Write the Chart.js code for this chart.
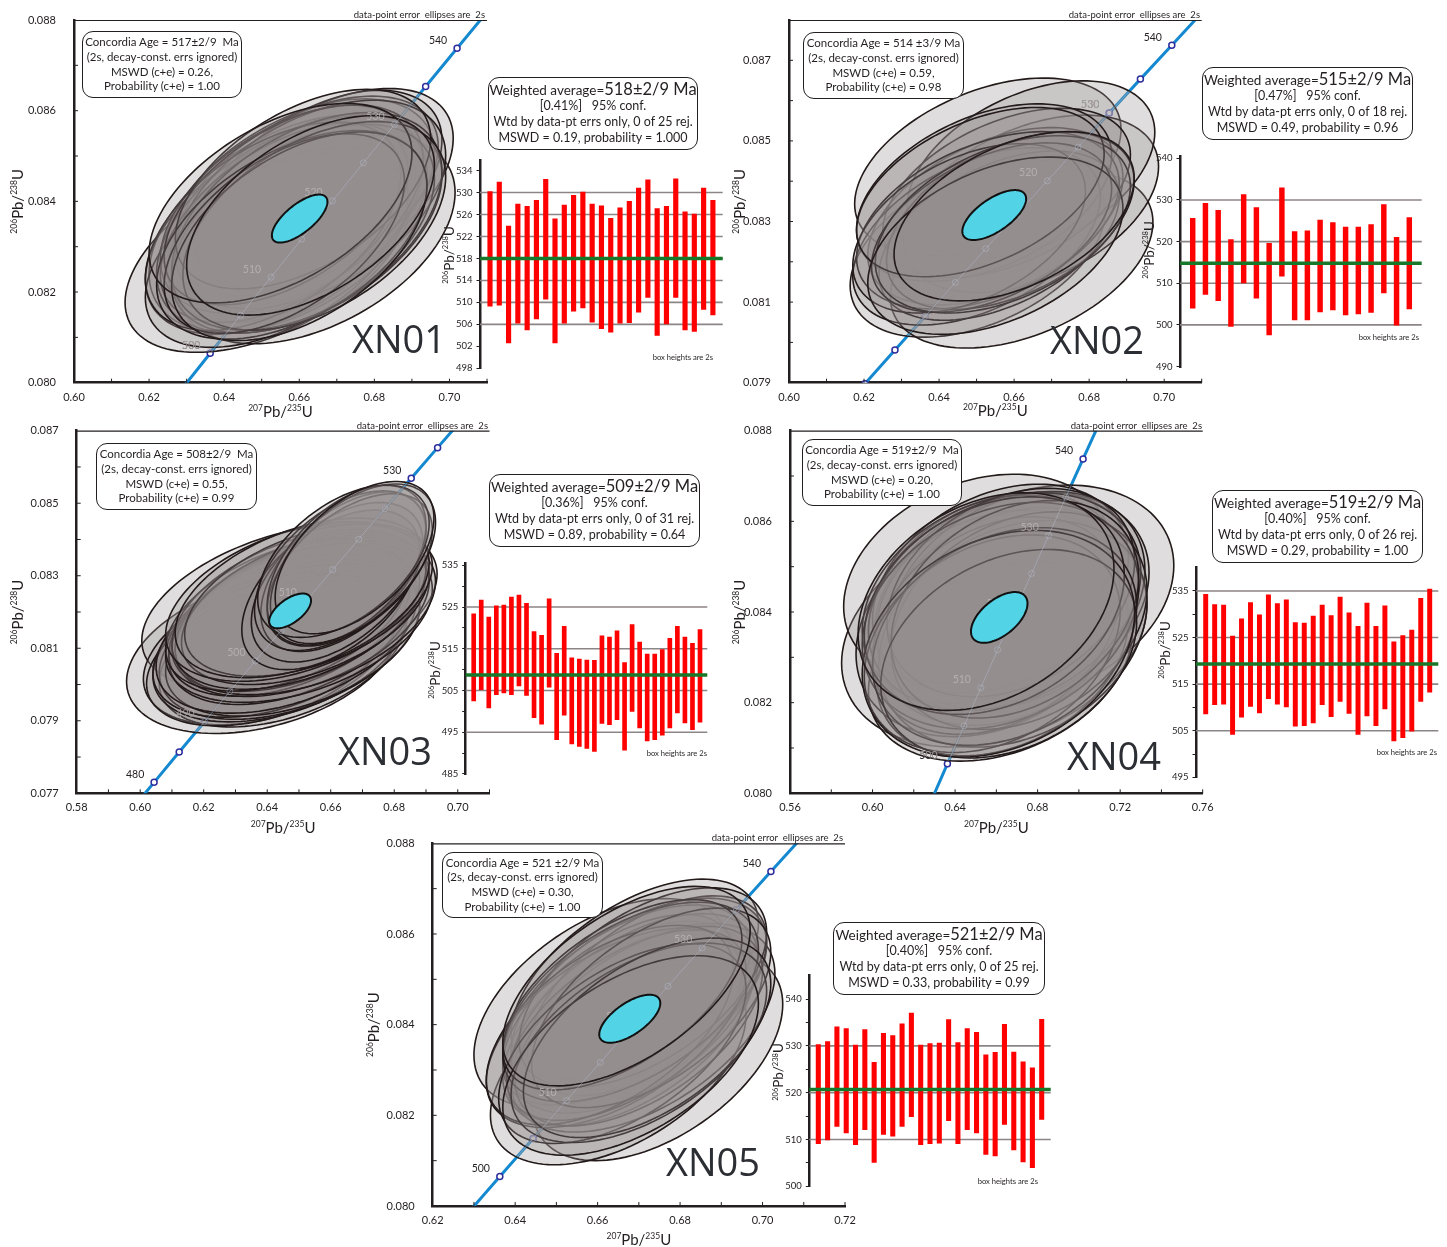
<!DOCTYPE html>
<html><head><meta charset="utf-8"><title>U-Pb concordia XN01-XN05</title>
<script src="https://cdn.jsdelivr.net/npm/chart.js@4.4.1/dist/chart.umd.min.js"></script>
<style>
html,body{margin:0;padding:0;background:#fff;}
body{width:1447px;height:1247px;position:relative;overflow:hidden;font-family:Lato,"Noto Sans",sans-serif;color:#231f20;}
canvas{position:absolute;}
.cbox{position:absolute;border:1.4px solid #231f20;border-radius:11px;box-sizing:border-box;display:flex;flex-direction:column;justify-content:center;align-items:center;font-size:11.5px;line-height:14.6px;white-space:pre;background:#fff;}
.wbox{position:absolute;border:1.4px solid #231f20;border-radius:11px;box-sizing:border-box;display:flex;flex-direction:column;justify-content:center;align-items:center;font-size:12.5px;line-height:16.2px;white-space:pre;background:#fff;}
.wbox .l1{font-size:13.5px;}
.wbox .big{font-size:16.5px;}
.tag{position:absolute;font-family:"Open Sans",sans-serif;font-size:38px;line-height:38px;color:#2b2e33;white-space:nowrap;}
.note{position:absolute;font-size:9.5px;line-height:10px;white-space:pre;transform:translateX(-100%);}
.bh{position:absolute;font-size:7.6px;line-height:8px;white-space:nowrap;transform:translateX(-100%);}
</style></head>
<body>
<script>
// ---------------- DATA ----------------
// Concordia curve (207Pb/235U, 206Pb/238U) at age marks, Ma
const concordiaAge = [470,475,480,485,490,495,500,505,510,515,520,525,530,535,540,545,550];
const concordiaX = [0.58864,0.59648,0.60437,0.61228,0.62024,0.62824,0.63628,0.64436,0.65247,0.66063,0.66883,0.67707,0.68535,0.69366,0.70203,0.71043,0.71887];
const concordiaY = [0.075633,0.076467,0.077302,0.078138,0.078975,0.079812,0.080650,0.081488,0.082327,0.083167,0.084008,0.084849,0.085691,0.086533,0.087376,0.088220,0.089064];

// data-point ellipses: centre (207/235, 206/238), 2s half-extents and error correlation
const xn01_cx = [0.6516,0.6645,0.667,0.660,0.662,0.657,0.655,0.659,0.665,0.654,0.660,0.658,0.663,0.656,0.661,0.653,0.662,0.657,0.661,0.658,0.664,0.656,0.660,0.655,0.663];
const xn01_cy = [0.08287,0.08316,0.08429,0.08396,0.08412,0.08351,0.08337,0.08363,0.08425,0.08298,0.08349,0.08383,0.08393,0.08353,0.08340,0.08345,0.08356,0.08392,0.08427,0.08326,0.08346,0.08329,0.08323,0.08396,0.08369];
const xn01_sx = [0.038,0.037,0.034,0.036,0.035,0.037,0.036,0.034,0.033,0.035,0.038,0.035,0.036,0.033,0.035,0.034,0.036,0.033,0.034,0.036,0.035,0.032,0.034,0.035,0.033];
const xn01_sy = [0.0022,0.0023,0.0022,0.0023,0.0022,0.0024,0.0023,0.0023,0.0022,0.0022,0.0024,0.0023,0.0023,0.0022,0.0023,0.0023,0.0024,0.0022,0.0022,0.0023,0.0023,0.0022,0.0023,0.0022,0.0022];
const xn01_rho = [0.50,0.45,0.50,0.48,0.50,0.46,0.48,0.50,0.50,0.50,0.45,0.48,0.47,0.52,0.48,0.50,0.46,0.52,0.50,0.48,0.47,0.52,0.48,0.50,0.50];
const xn01_mean = [0.6601,0.08362,0.0074,0.00053,0.70];
const xn01_lo = [509.3,509.5,502.6,506.2,505.0,507.0,510.6,502.6,506.2,508.4,509.0,506.4,505.2,504.6,506.2,506.3,508.2,510.9,504.0,506.1,510.9,505.0,504.7,508.7,507.7];
const xn01_hi = [530.2,531.9,523.9,527.9,527.5,528.6,532.4,525.2,527.7,529.5,530.1,527.9,527.6,525.3,527.2,528.4,530.8,532.3,527.1,527.5,532.5,526.5,526.1,530.8,528.6];
const xn01_wavg = 518;

const xn02_cx = [0.6503,0.662,0.653,0.6645,0.6645,0.655,0.658,0.652,0.650,0.656,0.653,0.659,0.648,0.654,0.657,0.651,0.655,0.660];
const xn02_cy = [0.08233,0.08206,0.08436,0.08344,0.08429,0.08313,0.08371,0.08372,0.08263,0.08265,0.08303,0.08302,0.08283,0.08285,0.08293,0.08373,0.08240,0.08313];
const xn02_sx = [0.034,0.035,0.0355,0.034,0.033,0.034,0.033,0.034,0.033,0.032,0.035,0.033,0.031,0.032,0.034,0.033,0.034,0.032];
const xn02_sy = [0.0022,0.0022,0.0022,0.0022,0.0022,0.0022,0.0021,0.0022,0.0022,0.0021,0.0022,0.0022,0.0021,0.0021,0.0022,0.0021,0.0022,0.0021];
const xn02_rho = [0.42,0.42,0.42,0.42,0.42,0.44,0.45,0.42,0.45,0.46,0.42,0.45,0.44,0.46,0.43,0.45,0.42,0.45];
const xn02_mean = [0.6547,0.08316,0.0085,0.00062,0.65];
const xn02_lo = [504.0,507.3,505.8,499.6,510.1,506.4,497.6,511.7,501.2,501.2,503.1,503.6,502.4,502.6,503.0,507.7,499.9,503.8];
const xn02_hi = [525.6,529.2,527.5,520.5,531.3,528.2,519.6,532.9,522.4,522.6,525.2,524.6,523.5,523.5,524.1,528.9,521.0,525.8];
const xn02_wavg = 514.8;

const xn03_cx = [0.6387,0.647,0.641,0.645,0.640,0.644,0.647,0.643,0.648,0.646,0.648,0.650,0.647,0.651,0.649,0.652,0.646,0.650,0.652,0.649,0.653,0.651,0.660,0.662,0.664,0.663,0.666,0.665,0.667,0.664,0.6675];
const xn03_cy = [0.08085,0.08213,0.08099,0.08093,0.08086,0.08107,0.08124,0.08120,0.08123,0.08141,0.08165,0.08171,0.08178,0.08187,0.08191,0.08192,0.08192,0.08207,0.08210,0.08229,0.08233,0.08239,0.08261,0.08282,0.08311,0.08314,0.08316,0.08329,0.08333,0.08340,0.08350];
const xn03_sx = [0.043,0.0465,0.040,0.039,0.038,0.040,0.041,0.039,0.040,0.041,0.039,0.042,0.038,0.040,0.039,0.041,0.038,0.040,0.039,0.041,0.039,0.040,0.028,0.027,0.026,0.027,0.026,0.025,0.026,0.027,0.025];
const xn03_sy = [0.0022,0.0023,0.0021,0.0021,0.0020,0.0021,0.0022,0.0021,0.0021,0.0022,0.0022,0.0022,0.0021,0.0022,0.0021,0.0022,0.0021,0.0022,0.0021,0.0022,0.0021,0.0022,0.0022,0.0022,0.0022,0.0022,0.0021,0.0022,0.0022,0.0021,0.0021];
const xn03_rho = [0.35,0.40,0.40,0.42,0.42,0.40,0.42,0.42,0.42,0.42,0.44,0.42,0.45,0.44,0.45,0.42,0.45,0.44,0.45,0.42,0.45,0.44,0.50,0.50,0.52,0.50,0.52,0.50,0.52,0.50,0.52];
const xn03_mean = [0.6472,0.08203,0.0066,0.00048,0.60];
const xn03_lo = [502.5,505.2,500.8,504.0,504.4,504.0,506.1,503.8,498.5,496.9,505.8,493.2,499.1,492.2,491.6,491.1,490.4,497.1,496.8,498.0,490.7,500.0,496.0,492.9,493.2,494.3,496.0,499.6,497.2,495.6,497.4];
const xn03_hi = [523.4,526.7,522.6,525.3,525.5,527.4,527.9,525.9,519.1,518.2,527.0,513.9,520.4,512.8,512.5,512.3,512.2,518.1,517.8,519.3,511.7,520.8,516.6,513.7,513.7,514.8,517.5,520.4,517.8,516.3,519.6];
const xn03_wavg = 508.7;

const xn04_cx = [0.659,0.677,0.662,0.651,0.665,0.660,0.668,0.663,0.657,0.666,0.662,0.670,0.656,0.668,0.660,0.664,0.671,0.667,0.662,0.658,0.669,0.664,0.659,0.666,0.661,0.655];
const xn04_cy = [0.08352,0.08440,0.08291,0.08474,0.08425,0.08423,0.08423,0.08313,0.08375,0.08390,0.08452,0.08426,0.08428,0.08352,0.08370,0.08423,0.08381,0.08443,0.08392,0.08330,0.08406,0.08346,0.08414,0.08308,0.08330,0.08423];
const xn04_sx = [0.074,0.069,0.064,0.065,0.064,0.062,0.066,0.061,0.065,0.063,0.062,0.062,0.061,0.065,0.060,0.066,0.062,0.060,0.067,0.062,0.060,0.064,0.063,0.062,0.066,0.062];
const xn04_sy = [0.0025,0.0024,0.0022,0.0023,0.0024,0.0024,0.0024,0.0023,0.0025,0.0024,0.0023,0.0024,0.0023,0.0025,0.0024,0.0024,0.0024,0.0023,0.0025,0.0024,0.0024,0.0024,0.0024,0.0023,0.0025,0.0024];
const xn04_rho = [0.26,0.26,0.30,0.27,0.28,0.27,0.27,0.30,0.27,0.28,0.30,0.28,0.30,0.27,0.30,0.27,0.28,0.30,0.26,0.30,0.30,0.28,0.28,0.30,0.27,0.30];
const xn04_mean = [0.6614,0.08388,0.0137,0.00056,0.55];
const xn04_lo = [508.6,510.6,510.7,504.2,507.9,510.2,508.8,511.9,510.7,510.1,506.0,506.1,506.7,510.6,508.0,511.3,508.7,504.2,508.2,506.1,509.7,502.8,503.5,504.9,511.3,513.3];
const xn04_hi = [534.3,532.1,532.0,525.3,529.0,532.5,529.9,534.2,532.3,533.1,528.2,528.1,529.6,532.0,529.7,533.7,530.3,527.4,532.4,527.4,531.8,524.1,525.4,526.6,533.4,535.4];
const xn04_wavg = 519.3;

const xn05_cx = [0.661,0.6746,0.665,0.669,0.668,0.666,0.670,0.667,0.671,0.665,0.669,0.672,0.664,0.670,0.667,0.671,0.663,0.668,0.673,0.666,0.670,0.666,0.672,0.668,0.667];
const xn05_cy = [0.08448,0.08330,0.08311,0.08501,0.08396,0.08408,0.08459,0.08444,0.08393,0.08433,0.08425,0.08464,0.08393,0.08397,0.08399,0.08482,0.08399,0.08450,0.08437,0.08358,0.08360,0.08466,0.08371,0.08332,0.08485];
const xn05_sx = [0.031,0.0303,0.031,0.030,0.030,0.029,0.031,0.030,0.032,0.028,0.030,0.029,0.031,0.030,0.029,0.030,0.030,0.031,0.029,0.030,0.031,0.029,0.030,0.031,0.030];
const xn05_sy = [0.0023,0.0023,0.0022,0.0022,0.0022,0.0022,0.0022,0.0022,0.0023,0.0021,0.0022,0.0022,0.0022,0.0022,0.0021,0.0022,0.0022,0.0022,0.0022,0.0022,0.0022,0.0021,0.0022,0.0022,0.0022];
const xn05_rho = [0.50,0.50,0.50,0.55,0.55,0.56,0.54,0.55,0.52,0.58,0.55,0.56,0.54,0.55,0.57,0.55,0.55,0.53,0.56,0.55,0.52,0.58,0.54,0.52,0.56];
const xn05_mean = [0.6678,0.08413,0.0074,0.00053,0.65];
const xn05_lo = [509.1,509.9,512.8,511.4,508.9,512.1,505.1,511.1,510.7,512.8,514.9,508.9,509.1,509.2,514.0,509.1,512.1,511.4,506.8,506.5,513.2,507.8,505.2,504.0,514.3];
const xn05_hi = [530.3,530.9,534.1,533.7,530.2,533.5,526.5,532.7,532.2,534.7,537.0,530.2,530.5,530.6,535.6,530.7,533.7,532.9,528.1,528.6,534.6,528.7,526.6,525.3,535.7];
const xn05_wavg = 520.7;

// tick labels
const xn01_xTicks = [0.60,0.62,0.64,0.66,0.68,0.70], xn01_yTicks = [0.080,0.082,0.084,0.086,0.088];
const xn02_xTicks = [0.60,0.62,0.64,0.66,0.68,0.70], xn02_yTicks = [0.079,0.081,0.083,0.085,0.087];
const xn03_xTicks = [0.58,0.60,0.62,0.64,0.66,0.68,0.70], xn03_yTicks = [0.077,0.079,0.081,0.083,0.085,0.087];
const xn04_xTicks = [0.56,0.60,0.64,0.68,0.72,0.76], xn04_yTicks = [0.080,0.082,0.084,0.086,0.088];
const xn05_xTicks = [0.62,0.64,0.66,0.68,0.70,0.72], xn05_yTicks = [0.080,0.082,0.084,0.086,0.088];
const xn01_ageTicks = [498,502,506,510,514,518,522,526,530,534], xn01_ageGrid = [506,510,514,518,522,526,530];
const xn02_ageTicks = [490,500,510,520,530,540], xn02_ageGrid = [500,510,520,530];
const xn03_ageTicks = [485,495,505,515,525,535], xn03_ageGrid = [495,505,515,525];
const xn04_ageTicks = [495,505,515,525,535], xn04_ageGrid = [505,515,525,535];
const xn05_ageTicks = [500,510,520,530,540], xn05_ageGrid = [510,520,530];
const xn01_ageLabels = [500,510,520,530,540];
const xn02_ageLabels = [520,530,540];
const xn03_ageLabels = [480,490,500,510,530];
const xn04_ageLabels = [500,510,520,530,540];
const xn05_ageLabels = [500,510,520,530,540];

// ---------------- LAYOUT ----------------
const FONT = 'Lato, "Noto Sans", sans-serif';
const INK = '#231f20';
Chart.defaults.font.family = FONT;

const panels = [
 {name:'XN01', L:74, R:487, T:20, B:382.7, xmin:0.60, xmax:0.71, ymin:0.080, ymax:0.088, xMinor:0.01, yMinor:0.001, yTitleX:18, xTitleY:411.5,
  xTicks:xn01_xTicks, yTicks:xn01_yTicks, cx:xn01_cx, cy:xn01_cy, sx:xn01_sx, sy:xn01_sy, rho:xn01_rho, mean:xn01_mean, labels:xn01_ageLabels,
  inset:{axisX:480, gridEnd:722.7, first:490, last:712.9, top:159, bottom:370, ymin:498, ymax:535.8, bw:4.5, titleY:255, minor:null,
         lo:xn01_lo, hi:xn01_hi, ticks:xn01_ageTicks, grid:xn01_ageGrid, wavg:xn01_wavg},
  cbox:[82,31,160,67], wbox:[488,77,210,73], tag:[352,319], note:[485,9.5], bh:[713,353],
  ctext:['Concordia Age = 517±2/9  Ma','(2s, decay-const. errs ignored)','MSWD (c+e) = 0.26,','Probability (c+e) = 1.00'],
  wtext:['518±2/9 Ma','[0.41%]   95% conf.','Wtd by data-pt errs only, 0 of 25 rej.','MSWD = 0.19, probability = 1.000']},
 {name:'XN02', L:789, R:1201.7, T:20, B:382.7, xmin:0.60, xmax:0.71, ymin:0.079, ymax:0.088, xMinor:0.01, yMinor:0.001, yTitleX:740, xTitleY:411,
  xTicks:xn02_xTicks, yTicks:xn02_yTicks, cx:xn02_cx, cy:xn02_cy, sx:xn02_sx, sy:xn02_sy, rho:xn02_rho, mean:xn02_mean, labels:xn02_ageLabels,
  inset:{axisX:1180, gridEnd:1421.7, first:1192.7, last:1409.3, top:155, bottom:368.8, ymin:489.8, ymax:540.4, bw:4.8, titleY:250, minor:null,
         lo:xn02_lo, hi:xn02_hi, ticks:xn02_ageTicks, grid:xn02_ageGrid, wavg:xn02_wavg},
  cbox:[803,32,161,67], wbox:[1202,67,211,73], tag:[1050,320], note:[1200,9.5], bh:[1419,332.5],
  ctext:['Concordia Age = 514 ±3/9 Ma','(2s, decay-const. errs ignored)','MSWD (c+e) = 0.59,','Probability (c+e) = 0.98'],
  wtext:['515±2/9 Ma','[0.47%]   95% conf.','Wtd by data-pt errs only, 0 of 18 rej.','MSWD = 0.49, probability = 0.96']},
 {name:'XN03', L:76.7, R:489.5, T:430.7, B:793.3, xmin:0.58, xmax:0.71, ymin:0.077, ymax:0.087, xMinor:0.01, yMinor:0.001, yTitleX:18, xTitleY:828,
  xTicks:xn03_xTicks, yTicks:xn03_yTicks, cx:xn03_cx, cy:xn03_cy, sx:xn03_sx, sy:xn03_sy, rho:xn03_rho, mean:xn03_mean, labels:xn03_ageLabels,
  inset:{axisX:465.7, gridEnd:707.3, first:473.7, last:700, top:562.5, bottom:776, ymin:484.9, ymax:535.4, bw:4, titleY:670, minor:5,
         lo:xn03_lo, hi:xn03_hi, ticks:xn03_ageTicks, grid:xn03_ageGrid, wavg:xn03_wavg},
  cbox:[96,443,161,67], wbox:[489,474,211,73], tag:[338,731], note:[488,421], bh:[707,748.5],
  ctext:['Concordia Age = 508±2/9  Ma','(2s, decay-const. errs ignored)','MSWD (c+e) = 0.55,','Probability (c+e) = 0.99'],
  wtext:['509±2/9 Ma','[0.36%]   95% conf.','Wtd by data-pt errs only, 0 of 31 rej.','MSWD = 0.89, probability = 0.64']},
 {name:'XN04', L:790, R:1202.7, T:430.7, B:793.3, xmin:0.56, xmax:0.76, ymin:0.080, ymax:0.088, xMinor:0.02, yMinor:0.001, yTitleX:740, xTitleY:828,
  xTicks:xn04_xTicks, yTicks:xn04_yTicks, cx:xn04_cx, cy:xn04_cy, sx:xn04_sx, sy:xn04_sy, rho:xn04_rho, mean:xn04_mean, labels:xn04_ageLabels,
  inset:{axisX:1196, gridEnd:1438.3, first:1205.7, last:1429.7, top:566.4, bottom:779, ymin:495, ymax:540, bw:4.3, titleY:650, minor:5,
         lo:xn04_lo, hi:xn04_hi, ticks:xn04_ageTicks, grid:xn04_ageGrid, wavg:xn04_wavg},
  cbox:[802,439,160,67], wbox:[1212,490,211,73], tag:[1067,736], note:[1202,421], bh:[1437,748],
  ctext:['Concordia Age = 519±2/9  Ma','(2s, decay-const. errs ignored)','MSWD (c+e) = 0.20,','Probability (c+e) = 1.00'],
  wtext:['519±2/9 Ma','[0.40%]   95% conf.','Wtd by data-pt errs only, 0 of 26 rej.','MSWD = 0.29, probability = 1.00']},
 {name:'XN05', L:432.7, R:845, T:843.3, B:1206, xmin:0.62, xmax:0.72, ymin:0.080, ymax:0.088, xMinor:0.01, yMinor:0.001, yTitleX:374, xTitleY:1240,
  xTicks:xn05_xTicks, yTicks:xn05_yTicks, cx:xn05_cx, cy:xn05_cy, sx:xn05_sx, sy:xn05_sy, rho:xn05_rho, mean:xn05_mean, labels:xn05_ageLabels,
  inset:{axisX:809.3, gridEnd:1050.7, first:818.3, last:1041.7, top:974.9, bottom:1187.3, ymin:500, ymax:545, bw:4.4, titleY:1072, minor:5,
         lo:xn05_lo, hi:xn05_hi, ticks:xn05_ageTicks, grid:xn05_ageGrid, wavg:xn05_wavg},
  cbox:[442,852,161,66], wbox:[833,922,212,73], tag:[666,1142], note:[843,832.5], bh:[1038,1176.5],
  ctext:['Concordia Age = 521 ±2/9 Ma','(2s, decay-const. errs ignored)','MSWD (c+e) = 0.30,','Probability (c+e) = 1.00'],
  wtext:['521±2/9 Ma','[0.40%]   95% conf.','Wtd by data-pt errs only, 0 of 25 rej.','MSWD = 0.33, probability = 0.99']}
];

// ---------------- HELPERS ----------------
function ellipsePath(ctx, xs, ys, cx, cy, a, b, r, fresh) {
  const s = Math.sqrt(1 - r * r);
  if (fresh) ctx.beginPath();
  for (let k = 0; k <= 120; k++) {
    const t = k / 120 * Math.PI * 2;
    const x = cx + a * Math.cos(t);
    const y = cy + b * (r * Math.cos(t) + s * Math.sin(t));
    const px = xs.getPixelForValue(x), py = ys.getPixelForValue(y);
    if (k === 0) ctx.moveTo(px, py); else ctx.lineTo(px, py);
  }
  ctx.closePath();
}
function drawSup(ctx, parts, x, y, big, small, rot) {
  ctx.save();
  ctx.translate(x, y);
  if (rot) ctx.rotate(-Math.PI / 2);
  let w = 0;
  parts.forEach(p => { ctx.font = (p[1] ? small : big) + 'px ' + FONT; w += ctx.measureText(p[0]).width; });
  let px = -w / 2;
  ctx.fillStyle = INK; ctx.textAlign = 'left'; ctx.textBaseline = 'alphabetic';
  const base = big * 0.36;
  parts.forEach(p => {
    ctx.font = (p[1] ? small : big) + 'px ' + FONT;
    ctx.fillText(p[0], px, p[1] ? base - big * 0.40 : base);
    px += ctx.measureText(p[0]).width;
  });
  ctx.restore();
}
const T207 = [['207',1],['Pb/',0],['235',1],['U',0]];
const T206 = [['206',1],['Pb/',0],['238',1],['U',0]];

function makeMain(p) {
  const cl = Math.floor(Math.min(p.L - 74, p.yTitleX - 12)), ct = Math.floor(p.T - 20);
  const cw = Math.ceil(p.R + 14 - cl), ch = Math.ceil(p.xTitleY + 12 - ct);
  const cv = document.createElement('canvas');
  cv.width = cw; cv.height = ch; cv.style.left = cl + 'px'; cv.style.top = ct + 'px';
  document.body.appendChild(cv);
  const yW = p.L - cl, xH = ct + ch - p.B;
  const n = p.cx.length;
  const plug = {
    id: 'conc' + p.name,
    afterDatasetsDraw(chart) {
      const ctx = chart.ctx, a = chart.chartArea, xs = chart.scales.x, ys = chart.scales.y;
      ctx.save();
      ctx.beginPath(); ctx.rect(a.left, a.top, a.right - a.left, a.bottom - a.top); ctx.clip();
      ctx.font = '10.5px ' + FONT; ctx.fillStyle = INK; ctx.textAlign = 'center'; ctx.textBaseline = 'middle';
      p.labels.forEach(age => {
        const i = concordiaAge.indexOf(age);
        ctx.fillText(String(age), xs.getPixelForValue(concordiaX[i]) - 19, ys.getPixelForValue(concordiaY[i]) - 8);
      });
      ctx.lineWidth = 1.6; ctx.strokeStyle = '#231a1a'; ctx.fillStyle = 'rgba(150,141,141,0.3)';
      for (let i = 0; i < n; i++) {
        ellipsePath(ctx, xs, ys, p.cx[i], p.cy[i], p.sx[i], p.sy[i], p.rho[i], true);
        ctx.fill(); ctx.stroke();
      }
      // faint concordia seen through the ellipses
      ctx.beginPath();
      for (let i = 0; i < n; i++) ellipsePath(ctx, xs, ys, p.cx[i], p.cy[i], p.sx[i], p.sy[i], p.rho[i], false);
      ctx.clip();
      ctx.strokeStyle = 'rgba(185,195,210,0.45)'; ctx.lineWidth = 1;
      ctx.beginPath();
      concordiaX.forEach((x, i) => { const px = xs.getPixelForValue(x), py = ys.getPixelForValue(concordiaY[i]); if (i) ctx.lineTo(px, py); else ctx.moveTo(px, py); });
      ctx.stroke();
      concordiaX.forEach((x, i) => { ctx.beginPath(); ctx.arc(xs.getPixelForValue(x), ys.getPixelForValue(concordiaY[i]), 3, 0, Math.PI * 2); ctx.stroke(); });
      ctx.fillStyle = 'rgba(195,188,188,0.7)';
      p.labels.forEach(age => {
        const i = concordiaAge.indexOf(age);
        ctx.fillText(String(age), xs.getPixelForValue(concordiaX[i]) - 19, ys.getPixelForValue(concordiaY[i]) - 8);
      });
      ctx.restore();
      ctx.save();
      ctx.beginPath(); ctx.rect(a.left, a.top, a.right - a.left, a.bottom - a.top); ctx.clip();
      const m = p.mean;
      ellipsePath(ctx, xs, ys, m[0], m[1], m[2], m[3], m[4], true);
      ctx.fillStyle = '#52d3e6'; ctx.fill(); ctx.lineWidth = 2; ctx.strokeStyle = '#111'; ctx.stroke();
      ctx.restore();
    },
    afterDraw(chart) {
      const ctx = chart.ctx, a = chart.chartArea, xs = chart.scales.x, ys = chart.scales.y;
      ctx.save();
      ctx.strokeStyle = INK; ctx.lineWidth = 1.2;
      ctx.beginPath(); ctx.moveTo(a.left, a.top + 0.5); ctx.lineTo(a.right, a.top + 0.5); ctx.stroke();
      ctx.lineWidth = 1;
      const nx = Math.round((p.xmax - p.xmin) / p.xMinor);
      for (let k = 1; k <= nx; k++) { const px = xs.getPixelForValue(p.xmin + k * p.xMinor); ctx.beginPath(); ctx.moveTo(px, a.bottom); ctx.lineTo(px, a.bottom - 4); ctx.stroke(); }
      const ny = Math.round((p.ymax - p.ymin) / p.yMinor);
      for (let k = 1; k < ny; k++) { const py = ys.getPixelForValue(p.ymin + k * p.yMinor); ctx.beginPath(); ctx.moveTo(a.left, py); ctx.lineTo(a.left + 4, py); ctx.stroke(); }
      ctx.restore();
      drawSup(ctx, T207, (a.left + a.right) / 2, p.xTitleY - ct, 15, 8.5, false);
      drawSup(ctx, T206, p.yTitleX - cl, (a.top + a.bottom) / 2, 15, 8.5, true);
    }
  };
  new Chart(cv, {
    type: 'scatter',
    data: { datasets: [{ data: concordiaX.map((x, i) => ({ x: x, y: concordiaY[i] })), showLine: true,
      borderColor: '#1589d0', borderWidth: 3, pointRadius: 3, pointBorderWidth: 1.5,
      pointBackgroundColor: '#ffffff', pointBorderColor: '#2d2d9e' }] },
    options: {
      responsive: false, animation: false, events: [],
      layout: { padding: { left: 0, top: p.T - ct, right: cl + cw - p.R, bottom: 0 } },
      plugins: { legend: { display: false }, tooltip: { enabled: false } },
      scales: {
        x: { type: 'linear', min: p.xmin, max: p.xmax,
          afterBuildTicks: s => { s.ticks = p.xTicks.map(v => ({ value: v })); },
          afterFit: s => { s.height = xH; },
          ticks: { callback: v => v.toFixed(2), font: { size: 11 }, color: INK, padding: 0, autoSkip: false, maxRotation: 0 },
          grid: { display: false }, border: { display: true, color: INK, width: 2.5 } },
        y: { type: 'linear', min: p.ymin, max: p.ymax,
          afterBuildTicks: s => { s.ticks = p.yTicks.map(v => ({ value: v })); },
          afterFit: s => { s.width = yW; },
          ticks: { callback: v => v.toFixed(3), font: { size: 11 }, color: INK, padding: 10, autoSkip: false },
          grid: { display: false }, border: { display: true, color: INK, width: 2.5 } }
      }
    },
    plugins: [plug]
  });
}

function makeInset(p) {
  const q = p.inset;
  const cl = Math.floor(q.axisX - 44), ct = Math.floor(q.top - 8);
  const cw = Math.ceil(q.gridEnd + 3 - cl), ch = Math.ceil(q.bottom + 8 - ct);
  const cv = document.createElement('canvas');
  cv.width = cw; cv.height = ch; cv.style.left = cl + 'px'; cv.style.top = ct + 'px';
  document.body.appendChild(cv);
  const N = q.lo.length;
  const sp = (q.last - q.first) / (N - 1);
  const xmin = 1 - (q.first - q.axisX) / sp, xmax = N + (q.gridEnd - q.last) / sp;
  const marks = [];
  const step = q.minor || (q.ticks[1] - q.ticks[0]);
  for (let v = q.ticks[0]; v <= q.ticks[q.ticks.length - 1] + 1e-9; v += step) marks.push(v);
  const plug = {
    id: 'wavg' + p.name,
    beforeDatasetsDraw(chart) {
      const ctx = chart.ctx, a = chart.chartArea, ys = chart.scales.y;
      ctx.save(); ctx.strokeStyle = '#8c8585'; ctx.lineWidth = 1.6;
      q.grid.forEach(v => { const py = ys.getPixelForValue(v); ctx.beginPath(); ctx.moveTo(a.left, py); ctx.lineTo(a.right, py); ctx.stroke(); });
      ctx.restore();
    },
    afterDatasetsDraw(chart) {
      const ctx = chart.ctx, a = chart.chartArea, ys = chart.scales.y;
      ctx.save(); ctx.strokeStyle = '#17782a'; ctx.lineWidth = 3.5;
      const py = ys.getPixelForValue(q.wavg);
      ctx.beginPath(); ctx.moveTo(a.left, py); ctx.lineTo(a.right, py); ctx.stroke();
      ctx.restore();
    },
    afterDraw(chart) {
      drawSup(chart.ctx, T206, q.axisX - 31 - cl, q.titleY - ct, 13.5, 7.5, true);
    }
  };
  new Chart(cv, {
    type: 'bar',
    data: { datasets: [{ data: q.lo.map((v, i) => ({ x: i + 1, y: [v, q.hi[i]] })), backgroundColor: '#ff0000', borderWidth: 0, barThickness: q.bw }] },
    options: {
      responsive: false, animation: false, events: [],
      layout: { padding: { left: 0, top: q.top - ct, right: cl + cw - q.gridEnd, bottom: ct + ch - q.bottom } },
      plugins: { legend: { display: false }, tooltip: { enabled: false } },
      scales: {
        x: { type: 'linear', display: false, min: xmin, max: xmax, offset: false },
        y: { type: 'linear', min: q.ymin, max: q.ymax,
          afterBuildTicks: s => { s.ticks = marks.map(v => ({ value: v })); },
          afterFit: s => { s.width = q.axisX - cl; },
          ticks: { callback: v => q.ticks.includes(v) ? String(v) : '', font: { size: 9.5 }, color: INK, padding: 4, autoSkip: false },
          grid: { display: true, drawOnChartArea: false, drawTicks: true, tickLength: 3.5, color: INK, lineWidth: 1 },
          border: { display: true, color: INK, width: 2.5 } }
      }
    },
    plugins: [plug]
  });
}

function addDiv(cls, css, html) {
  const d = document.createElement('div');
  d.className = cls; Object.assign(d.style, css); d.innerHTML = html;
  document.body.appendChild(d); return d;
}
function esc(s) { return s.replace(/&/g, '&amp;').replace(/</g, '&lt;'); }

panels.forEach(p => { makeMain(p); makeInset(p); });
panels.forEach(p => {
  addDiv('note', { left: p.note[0] + 'px', top: p.note[1] + 'px' }, 'data-point error  ellipses are  2s');
  addDiv('bh', { left: p.bh[0] + 'px', top: p.bh[1] + 'px' }, 'box heights are 2s');
  addDiv('tag', { left: p.tag[0] + 'px', top: p.tag[1] + 'px' }, p.name);
  addDiv('cbox', { left: p.cbox[0] + 'px', top: p.cbox[1] + 'px', width: p.cbox[2] + 'px', height: p.cbox[3] + 'px' },
    p.ctext.map(t => '<div>' + esc(t) + '</div>').join(''));
  addDiv('wbox', { left: p.wbox[0] + 'px', top: p.wbox[1] + 'px', width: p.wbox[2] + 'px', height: p.wbox[3] + 'px' },
    '<div class="l1">Weighted average=<span class="big">' + esc(p.wtext[0]) + '</span></div>' +
    p.wtext.slice(1).map(t => '<div>' + esc(t) + '</div>').join(''));
});
</script>
</body></html>
